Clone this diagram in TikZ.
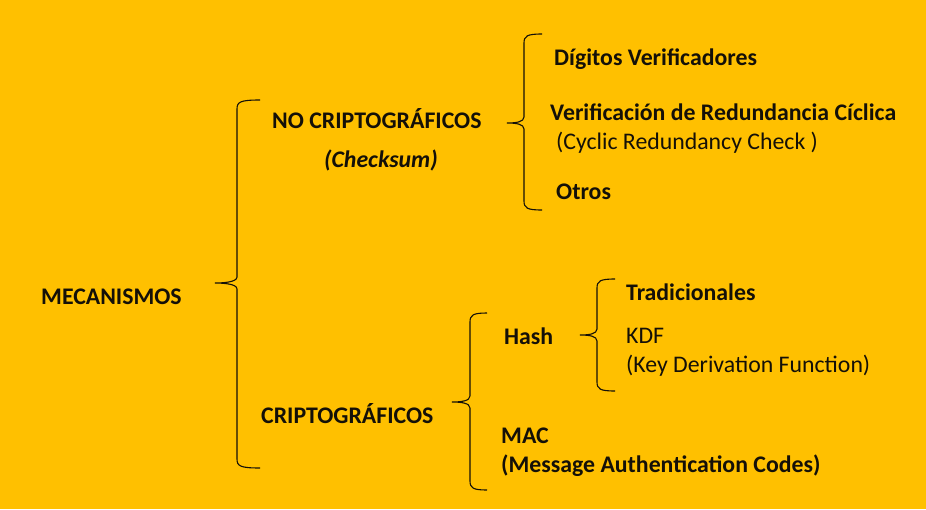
\documentclass[tikz,border=0pt]{standalone}
\usepackage{fontspec}
\setmainfont{Carlito}
\definecolor{bgyellow}{RGB}{255,192,0}
\definecolor{ink}{RGB}{20,16,8}
\newcommand\mybrace[6]{% xe xv xt ytop ytip ybot
  \draw[bracestyle] (#1,#4) .. controls ({#2+3},#4) and (#2,{#4+2}) .. (#2,{#4+9})
    -- (#2,{#5-6}) .. controls (#2,{#5-1}) and ({#3+9},#5) .. (#3,#5)
    .. controls ({#3+9},#5) and (#2,{#5+1}) .. (#2,{#5+6})
    -- (#2,{#6-9}) .. controls (#2,{#6-2}) and ({#2+3},#6) .. (#1,#6);}
\begin{document}
\begin{tikzpicture}[x=1pt,y=-1pt,
  bracestyle/.style={draw=ink,line width=1.1pt},
  lbl/.style={anchor=base west,inner sep=0pt,text=ink,font=\fontsize{23.8}{28}\selectfont},
  blbl/.style={lbl,font=\fontsize{23.8}{28}\selectfont\bfseries}]
\fill[bgyellow] (0,0) rectangle (926,509);
\useasboundingbox (0,0) rectangle (926,509);
% braces
\mybrace{260}{237}{215}{100}{283}{468}
\mybrace{542}{524}{507}{34}{123}{210}
\mybrace{487}{470}{452}{313}{402}{490}
\mybrace{615}{597}{580}{279}{335}{391}
% texts
\node[blbl] (mec) at (41,304) {MECANISMOS};
\node[blbl] (nocr) at (272,128.3) {NO CRIPTOGRÁFICOS};
\node[blbl,font=\fontsize{23.8}{28}\selectfont\bfseries\itshape] (chk) at (324,167) {(Checksum)};
\node[blbl] (dig) at (554,65.7) {Dígitos Verificadores};
\node[blbl] (crc) at (550,120) {Verificación de Redundancia Cíclica};
\node[lbl] (crce) at (556,149) {(Cyclic Redundancy Check )};
\node[blbl] (otr) at (556,199) {Otros};
\node[blbl] (cr) at (261,423) {CRIPTOGRÁFICOS};
\node[blbl] (hash) at (504,344) {Hash};
\node[blbl] (trad) at (626,300.7) {Tradicionales};
\node[lbl] (kdf) at (626,343) {KDF};
\node[lbl] (kdfe) at (626,372) {(Key Derivation Function)};
\node[blbl] (mac) at (501,443) {MAC};
\node[blbl] (mace) at (501,472) {(Message Authentication Codes)};
\end{tikzpicture}
\end{document}
